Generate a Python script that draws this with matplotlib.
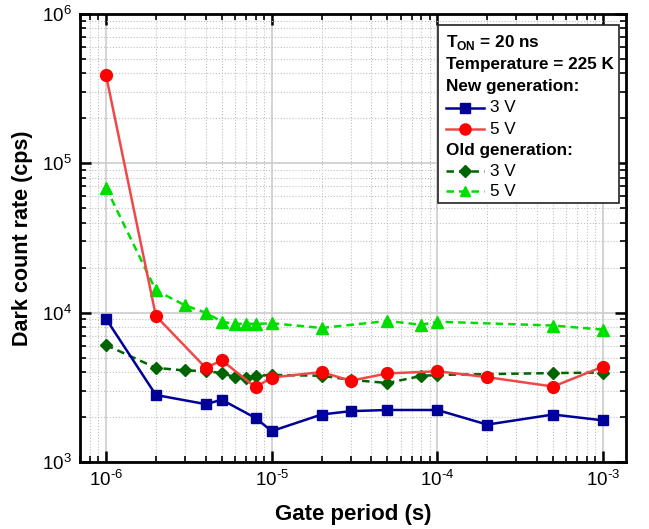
import numpy as np
import matplotlib
matplotlib.use("Agg")
import matplotlib.pyplot as plt
from matplotlib.lines import Line2D
from matplotlib.patches import Rectangle
from matplotlib.ticker import LogLocator, NullFormatter, FuncFormatter

plt.rcParams['font.family'] = ['Liberation Sans', 'DejaVu Sans']
plt.rcParams['mathtext.fontset'] = 'custom'
plt.rcParams['mathtext.rm'] = 'Liberation Sans'
plt.rcParams['mathtext.bf'] = 'Liberation Sans:bold'

# Data
x_new = [1e-6, 2e-6, 4e-6, 5e-6, 8e-6, 1e-5, 2e-5, 3e-5, 5e-5, 1e-4, 2e-4, 5e-4, 1e-3]
new_3v = [9.1e3, 2.81e3, 2.44e3, 2.61e3, 1.97e3, 1.61e3, 2.08e3, 2.19e3, 2.23e3, 2.23e3, 1.78e3, 2.08e3, 1.90e3]
new_5v = [3.9e5, 9.5e3, 4.27e3, 4.8e3, 3.16e3, 3.68e3, 4.0e3, 3.5e3, 3.92e3, 4.05e3, 3.7e3, 3.2e3, 4.35e3]

x_old3 = [1e-6, 2e-6, 3e-6, 4e-6, 5e-6, 6e-6, 7e-6, 8e-6, 1e-5, 2e-5, 3e-5, 5e-5, 8e-5, 1e-4, 5e-4, 1e-3]
old_3v = [6.07e3, 4.27e3, 4.1e3, 4.07e3, 3.93e3, 3.70e3, 3.65e3, 3.77e3, 3.83e3, 3.78e3, 3.55e3, 3.38e3, 3.77e3, 3.83e3, 3.94e3, 3.97e3]

x_old5 = [1e-6, 2e-6, 3e-6, 4e-6, 5e-6, 6e-6, 7e-6, 8e-6, 1e-5, 2e-5, 5e-5, 8e-5, 1e-4, 5e-4, 1e-3]
old_5v = [6.87e4, 1.41e4, 1.12e4, 1.0e4, 8.7e3, 8.4e3, 8.45e3, 8.4e3, 8.5e3, 7.9e3, 8.8e3, 8.3e3, 8.7e3, 8.2e3, 7.7e3]

c_blue = '#000099'
c_red_line = '#F04848'
c_red = '#FF0000'
c_dg = '#006400'
c_lg = '#00DD00'

fig = plt.figure(figsize=(6.49, 5.29), dpi=100)
ax = fig.add_axes([80/649, 1-462/529, 546/649, 448/529])

ax.plot(x_new, new_3v, '-', color=c_blue, lw=1.8, marker='s', ms=7.5, mfc=c_blue, mec=c_blue, zorder=5)
ax.plot(x_new, new_5v, '-', color=c_red_line, lw=1.8, marker='o', ms=8.5, mfc=c_red, mec=c_red, zorder=4)
ax.plot(x_old3, old_3v, '--', color=c_dg, lw=1.8, marker='D', ms=6.5, mfc=c_dg, mec=c_dg, dashes=(3, 2), zorder=3)
ax.plot(x_old5, old_5v, '--', color=c_lg, lw=1.8, marker='^', ms=8, mfc=c_lg, mec=c_lg, dashes=(3, 2), zorder=3)

ax.set_xscale('log')
ax.set_yscale('log')
ax.set_xlim(10**-6.157, 10**-2.861)
ax.set_ylim(1e3, 1e6)

def fmt(v, pos):
    e = int(round(np.log10(v)))
    s = str(e).replace('-', '\u2010')
    return r'$\mathregular{10^{%s}}$' % s

ax.xaxis.set_major_formatter(FuncFormatter(fmt))
ax.yaxis.set_major_formatter(FuncFormatter(fmt))
ax.xaxis.set_minor_locator(LogLocator(base=10, subs=np.arange(2, 10)))
ax.yaxis.set_minor_locator(LogLocator(base=10, subs=np.arange(2, 10)))
ax.xaxis.set_minor_formatter(NullFormatter())
ax.yaxis.set_minor_formatter(NullFormatter())

ax.grid(True, which='major', color='#CCCCCC', lw=1.2, ls='-', zorder=0)
ax.grid(True, which='minor', color='#C0C0C0', lw=0.8, ls=':', zorder=0)
ax.set_axisbelow(True)

for s in ax.spines.values():
    s.set_linewidth(2)
ax.tick_params(which='both', direction='in', top=True, right=True, labelsize=13.5)
ax.tick_params(which='major', length=8, width=1.8, pad=6)
ax.tick_params(which='minor', length=4, width=1.2)

ax.set_xlabel('Gate period (s)', fontsize=16, fontweight='bold', labelpad=10)
ax.set_ylabel('Dark count rate (cps)', fontsize=15.5, fontweight='bold', labelpad=6)

# Legend box (manual)
tr = ax.transAxes
def fx(px):
    return (px - 80) / 546
def fy(py):
    return (462 - py) / 448

rect = Rectangle((fx(438), fy(203)), fx(619) - fx(438), fy(25) - fy(203), transform=tr,
                 facecolor='white', edgecolor='#222222', lw=1.2, zorder=10)
ax.add_patch(rect)
fs = 12.3
ax.text(fx(446), fy(43), r'T$_{\mathbf{ON}}$ = 20 ns', transform=tr, fontsize=fs, fontweight='bold',
        va='center', ha='left', zorder=11)
ax.text(fx(446), fy(65), 'Temperature = 225 K', transform=tr, fontsize=fs, fontweight='bold',
        va='center', ha='left', zorder=11)
ax.text(fx(446), fy(87), 'New generation:', transform=tr, fontsize=fs, fontweight='bold',
        va='center', ha='left', zorder=11)
ax.text(fx(446), fy(150), 'Old generation:', transform=tr, fontsize=fs, fontweight='bold',
        va='center', ha='left', zorder=11)

entries = [
    (108, c_blue, c_blue, 's', 7, '-', '3 V'),
    (129, c_red_line, c_red, 'o', 8, '-', '5 V'),
    (171, c_dg, c_dg, 'D', 6, '--', '3 V'),
    (191, c_lg, c_lg, '^', 7.5, '--', '5 V'),
]
for py, lc, mc, mk, ms, ls, lab in entries:
    ln = Line2D([fx(446), fx(484)], [fy(py), fy(py)], transform=tr, color=lc, lw=1.8, ls=ls,
                zorder=11)
    if ls == '--':
        ln.set_dashes((3, 2))
    ax.add_line(ln)
    ax.add_line(Line2D([fx(465)], [fy(py)], transform=tr, marker=mk, ms=ms, mfc=mc, mec=mc,
                       ls='none', zorder=12))
    ax.text(fx(490), fy(py), lab, transform=tr, fontsize=fs, va='center', ha='left', zorder=11)

fig.savefig('out.png', dpi=100)
